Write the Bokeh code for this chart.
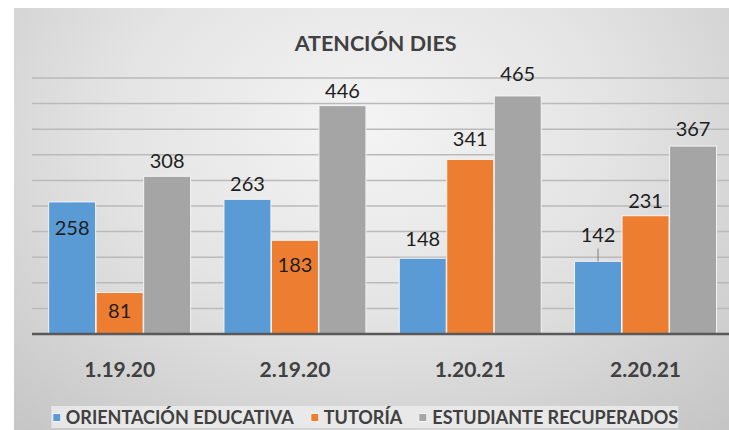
from bokeh.plotting import figure
from bokeh.models import Range1d, Legend, LegendItem
from bokeh.core.properties import value
from bokeh.embed import file_html
from bokeh.resources import INLINE

# ---------------- data ----------------
categories = ["1.19.20", "2.19.20", "1.20.21", "2.20.21"]
series_names = ["ORIENTACIÓN EDUCATIVA", "TUTORÍA", "ESTUDIANTE RECUPERADOS"]
orientacion = [258, 263, 148, 142]
tutoria = [81, 183, 341, 231]
recuperados = [308, 446, 465, 367]
title_text = "ATENCIÓN DIES"
grid_ticks = [50, 100, 150, 200, 250, 300, 350, 400, 450, 500]

# ---------------- style ----------------
colors = ["#5b9bd5", "#ed7d31", "#a5a5a5"]
dodge = [-0.271, 0.0, 0.271]
bar_w = 0.268
# label vertical offsets in px (positive = down / inside bar)
label_dy = [[26, -15, -19, -26],
            [18, 25, -20, -15],
            [-15, -15, -22, -17]]
leader = [(0, 3)]      # (series, category) labels with a leader line
leader_len = 25        # in value units
FONT = "Lato"
TXT = "#404040"
W, H = 729, 430
PX_X = 175.3           # px per category
PX_Y = 0.512           # px per value unit
ZERO_X, ZERO_Y = 31.5, 333.5   # pixel position of the data origin inside the figure

series = [orientacion, tutoria, recuperados]
base_x = [i + 0.5 for i in range(len(categories))]

x_range = Range1d(-ZERO_X / PX_X, (W - ZERO_X) / PX_X)
y_range = Range1d(-(H - ZERO_Y) / PX_Y, ZERO_Y / PX_Y)

p = figure(width=W, height=H, x_range=x_range, y_range=y_range, title=None,
           x_axis_type=None, y_axis_type=None, min_border=0,
           output_backend="svg", toolbar_location=None)
p.styles = {"background": "linear-gradient(to right, #ffffff 0px, #ffffff 14px, transparent 14px), "
                          "linear-gradient(to bottom, #ffffff 0px, #ffffff 8px, transparent 8px), "
                          "radial-gradient(ellipse 75% 95% at 50% 30%, #f4f4f4 0%, #e4e4e4 45%, #c4c4c4 100%)"}
p.border_fill_alpha = 0
p.background_fill_alpha = 0
p.outline_line_color = None

# value grid lines across the category extent
n = len(categories)
p.segment(x0=[0] * len(grid_ticks), x1=[n] * len(grid_ticks), y0=grid_ticks, y1=grid_ticks,
          line_color="#bababa", line_width=1.5)

items = []
for si, (name, vals) in enumerate(zip(series_names, series)):
    xs = [x + dodge[si] for x in base_x]
    r = p.vbar(x=xs, top=vals, width=bar_w,
               fill_color=colors[si], line_color="#f4f4f4", line_width=1)
    items.append(LegendItem(label=name, renderers=[r]))
    p.text(x=xs, y=vals, text=[str(v) for v in vals], y_offset=label_dy[si],
           text_align="center", text_baseline="middle",
           text_font=value(FONT), text_font_size="20px", text_color="#1e1e1e")

for si, ci in leader:
    v = series[si][ci]
    xx = base_x[ci] + dodge[si]
    p.segment(x0=[xx], y0=[v], x1=[xx], y1=[v + leader_len], line_color="#7f7f7f", line_width=1)

# category axis: baseline + labels
p.segment(x0=[0], x1=[n], y0=[0], y1=[0], line_color="#595959", line_width=2.5)
p.text(x=base_x, y=[0] * n, text=categories, y_offset=35,
       text_align="center", text_baseline="middle",
       text_font=value(FONT), text_font_size="21px", text_font_style="bold", text_color=TXT)

# title
p.text(x=[n / 2], y=[y_range.end], text=[title_text], x_offset=-7, y_offset=42,
       text_align="center", text_baseline="middle",
       text_font=value(FONT), text_font_size="21.5px", text_font_style="bold", text_color=TXT)

legend = Legend(items=items, orientation="horizontal", location="bottom_center")
legend.background_fill_color = "#eeeeee"
legend.background_fill_alpha = 0.8
legend.border_line_color = None
legend.padding = 8
legend.spacing = 15
legend.label_standoff = 5
legend.glyph_width = 10
legend.glyph_height = 10
legend.margin = 2
legend.label_text_font = FONT
legend.label_text_font_size = "18px"
legend.label_text_font_style = "bold"
legend.label_text_color = TXT
p.add_layout(legend)

open("out.html", "w").write(file_html(p, INLINE))
